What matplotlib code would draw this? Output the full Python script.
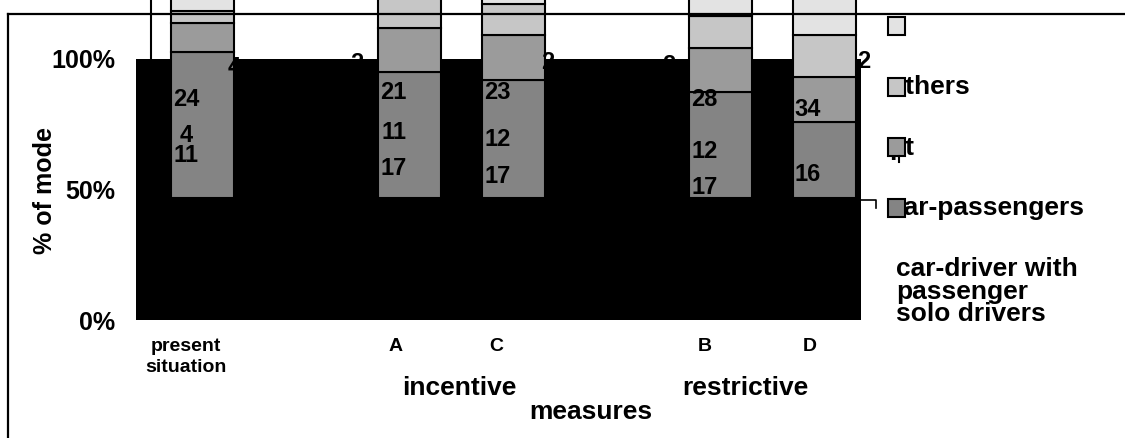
import matplotlib.pyplot as plt
from matplotlib.lines import Line2D
from matplotlib.patches import Rectangle

plt.rcParams['font.family'] = ['Liberation Sans', 'DejaVu Sans']
plt.rcParams['font.weight'] = 'bold'
plt.rcParams['axes.labelweight'] = 'bold'

# categories and bar positions
categories = ["present\nsituation", "A", "C", "B", "D"]
x_pos = [0, 2, 3, 5, 6]
tick_pos = [-0.16, 1.86, 2.84, 4.85, 5.86]
groups = ["incentive", "restrictive"]
group_pos = [2.48, 5.24]

# stacked segments, % of axis
base = [46.7, 46.7, 46.7, 46.7, 46.7]
car_pass = [56.1, 48.2, 45.3, 40.5, 29.3]
pt = [11.1, 16.9, 17.2, 16.9, 17.1]
others = [4.3, 12.2, 11.9, 12.4, 16.1]
blank = [15.0, 15.0, 15.0, 15.0, 15.0]

# value labels
solo_lbl = ["11", "17", "17", "17", "16"]
cdp_lbl = ["4", "11", "12", "12", ""]
cp_lbl = ["24", "21", "23", "28", "34"]
top_lbl = ["4", "2", "2", "2", "2"]

solo_y = [63.2, 58.2, 54.8, 50.6, 55.6]
cdp_y = [70.5, 72.0, 69.3, 64.4, 0]
cp_y = [84.3, 87.0, 87.0, 84.3, 80.5]
top_y = [96.6, 98.2, 98.5, 97.7, 99.2]
top_dx = [0.31, -0.51, 0.335, -0.5, 0.385]

legend_labels = ["", "others", "pt", "car-passengers"]
legend_extra = ["car-driver with", "passenger", "solo drivers"]
colors = ["#e3e3e3", "#c6c6c6", "#9b9b9b", "#848484"]

W, H = 1125, 438
fig = plt.figure(figsize=(W / 100, H / 100), dpi=100)
ax = fig.add_axes([136 / W, 118 / H, 725 / W, 261 / H])
ax.set_facecolor("black")
for s in ax.spines.values():
    s.set_visible(False)

bw = 0.61
kw = dict(width=bw, edgecolor="black", linewidth=1.5, clip_on=False, zorder=3)
bottom = list(base)
for vals, c in [(car_pass, colors[3]), (pt, colors[2]), (others, colors[1]), (blank, colors[0])]:
    ax.bar(x_pos, vals, bottom=bottom, color=c, **kw)
    bottom = [b + v for b, v in zip(bottom, vals)]

for i, x in enumerate(x_pos):
    lx = x - 0.155
    for lbl, ly in [(solo_lbl[i], solo_y[i]), (cdp_lbl[i], cdp_y[i]), (cp_lbl[i], cp_y[i])]:
        if lbl:
            ax.text(lx, ly, lbl, ha="center", va="center", fontsize=17, color="black", zorder=5)
    ax.text(x + top_dx[i], top_y[i], top_lbl[i], ha="center", va="center",
            fontsize=17, color="black", zorder=5, clip_on=False)

ax.set_xlim(-0.642, 6.356)
ax.set_ylim(0, 100)
ax.set_yticks([0, 50, 100], ["0%", "50%", "100%"])
ax.tick_params(axis="y", length=0, pad=15, labelsize=18)
ax.set_xticks(tick_pos, categories)
ax.tick_params(axis="x", length=0, pad=13, labelsize=14)
for t in ax.get_xticklabels():
    t.set_linespacing(1.3)

for g, gx in zip(groups, group_pos):
    ax.text(gx, -0.287, g, transform=ax.get_xaxis_transform(), ha="center",
            va="baseline", fontsize=19)

ax.set_xlabel("measures", fontsize=19)
ax.xaxis.set_label_coords(0.628, -0.38)
ax.xaxis.label.set_verticalalignment("baseline")
ax.set_ylabel("% of mode", fontsize=18)
ax.yaxis.set_label_coords(-0.1255, 0.498)
ax.yaxis.label.set_verticalalignment("center")


def fx(px):
    return px / W


def fy(py):
    return 1 - py / H


# outer frame and leftover axis line
fig.add_artist(Line2D([fx(8), fx(W)], [fy(14), fy(14)], color="black", lw=1.6, zorder=10))
fig.add_artist(Line2D([fx(8), fx(8)], [fy(14), fy(H)], color="black", lw=1.6, zorder=10))
fig.add_artist(Line2D([fx(151), fx(151)], [fy(0), fy(59)], color="black", lw=1.5, zorder=1))
fig.add_artist(Line2D([fx(861), fx(876), fx(876)], [fy(200), fy(200), fy(208)],
                      color="black", lw=1.2, zorder=10))

# legend
for i, (lbl, c) in enumerate(zip(legend_labels, colors)):
    yb = 35 + 60.5 * i
    fig.text(fx(889), fy(yb - 1), lbl, fontsize=19, va="baseline", ha="left")
    fig.add_artist(Rectangle((fx(888), fy(yb)), 17 / W, 18 / H, facecolor=c,
                             edgecolor="black", linewidth=1.5, zorder=11))
fig.add_artist(Line2D([fx(899), fx(899)], [fy(156), fy(162)], color="black", lw=1.5, zorder=11))
for j, t in enumerate(legend_extra):
    fig.text(fx(896), fy(276 + 22.5 * j), t, fontsize=19, va="baseline", ha="left")

fig.savefig("out.png", dpi=100)
